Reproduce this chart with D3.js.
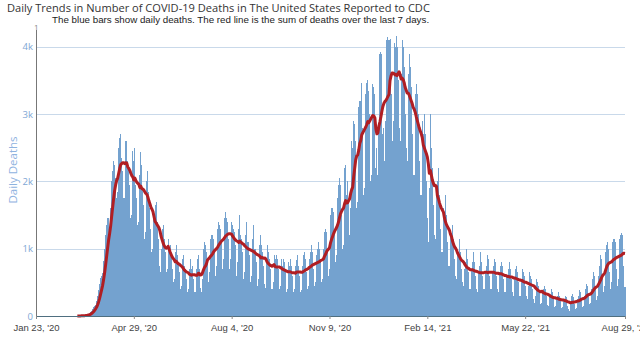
<!DOCTYPE html>
<html><head><meta charset="utf-8">
<script src="https://cdn.jsdelivr.net/npm/d3@7"></script>
<style>
html,body{margin:0;padding:0;background:#fff;}
svg{display:block;}
</style></head>
<body>
<svg id="chart" width="640" height="351"></svg>
<script>
// ---- data ----
const titleText = "Daily Trends in Number of COVID-19 Deaths in The United States Reported to CDC";
const subtitleText = "The blue bars show daily deaths. The red line is the sum of deaths over the last 7 days.";
const yAxisLabel = "Daily Deaths";
const startDate = [2020, 0, 23];   // first day of the series (Jan 23, 2020)
const endDate = [2021, 7, 29];     // last day (Aug 29, 2021)
const lineStartIndex = 41;         // red line begins here
// one row per week, Thursday..Wednesday
const dailyDeaths = [
0,0,0,0,0,0,0, 0,0,0,0,0,0,0, 0,0,0,0,0,0,0, 0,0,0,0,0,0,0, 0,0,0,0,0,0,0,
0,0,0,0,1,1,2,
2,3,3,4,5,6,8,
12,16,20,28,40,55,75,
100,130,150,170,220,290,380,
470,560,600,640,820,1000,1200,
1350,1450,1450,1300,1600,2000,2150,
2300,2250,2050,1750,1850,2500,2650,
2700,2350,2150,1750,1750,2600,2600,
2300,2200,1950,1450,1500,2450,2300,
2500,1950,1750,1350,1400,2100,2440,
2250,1900,1650,1150,1250,2000,2150,
1850,1600,1300,950,1000,1500,1650,
1700,1400,1150,750,650,1000,1300,
1350,1150,950,650,700,1150,1000,
1050,900,700,500,550,950,1050,
900,800,650,400,450,850,900,
750,700,550,350,400,700,850,
700,750,550,350,350,700,850,
900,700,420,360,550,1000,1100,
1050,950,800,500,650,1150,1200,
1200,1150,950,600,750,1300,1400,
1350,1300,1100,700,850,1450,1550,
1450,1400,1150,700,850,1400,1350,
1300,1250,1050,600,800,1300,1500,
1200,1150,950,550,650,1200,1400,
1100,1100,900,500,600,1150,1350,
1000,1000,800,450,550,1050,1200,
1050,950,750,480,420,800,1050,
950,850,700,400,500,900,850,
900,850,700,400,450,850,750,
850,800,650,350,400,800,750,
850,750,600,350,400,750,830,
900,750,600,350,380,750,900,
950,850,650,400,450,850,950,
1050,950,700,450,500,900,1000,
1100,1000,800,500,550,1000,1250,
1300,1250,1000,600,700,1500,1600,
1600,1550,1250,800,900,1750,1950,
2050,1950,1500,1000,1050,2200,2250,
1800,2000,1700,1200,1600,2600,2500,
2900,2850,2600,1600,1700,3100,3200,
3200,3460,2800,1800,1900,3300,3460,
3500,3350,3000,2000,2100,3450,3400,
3300,2200,2500,2100,2800,3900,3930,
3900,2700,2800,2300,2900,4100,4150,
4100,4120,3300,2600,2900,4050,4000,
4160,4000,3500,2800,2600,3600,4100,
4000,3700,3000,2500,2300,3600,3900,
3700,3400,2700,2100,2100,3300,3450,
3300,3000,2300,1800,1800,2900,2700,
3000,2700,2000,1450,1100,1900,3000,
2500,2200,1650,1200,1150,1800,2000,
2200,1800,1300,950,950,1600,1400,
1800,1500,1100,750,750,1200,1150,
1350,1150,850,600,550,900,950,
1150,950,700,500,450,700,800,
1000,850,650,400,400,700,800,
950,800,600,400,350,650,750,
950,800,600,400,400,650,750,
900,850,600,400,400,650,750,
850,800,600,400,350,650,750,
800,750,550,350,350,600,700,
800,700,550,350,300,550,700,
750,650,500,300,300,500,700,
650,600,450,300,250,450,650,
600,550,400,250,200,300,550,
500,450,350,180,200,350,400,
450,400,300,170,150,300,300,
400,350,250,140,150,250,300,
350,300,220,120,130,250,260,
300,280,150,100,80,200,300,
320,280,180,110,120,250,300,
380,350,250,140,150,300,400,
480,450,300,180,200,400,550,
650,600,400,240,300,600,750,
900,850,600,350,450,950,1050,
1100,1000,650,400,500,1100,1150,
1150,1100,700,450,550,1150,1200,
1230,1200,750,430
];
const yTickValues = [0, 1000, 2000, 3000, 4000];
const yTickLabels = ["0", "1k", "2k", "3k", "4k"];
const xTickDates = [[2020,0,23],[2020,3,29],[2020,7,4],[2020,10,9],[2021,1,14],[2021,4,22],[2021,7,29]];
const xTickLabels = ["Jan 23, '20","Apr 29, '20","Aug 4, '20","Nov 9, '20","Feb 14, '21","May 22, '21","Aug 29, '21"];

// ---- chart ----
const svg = d3.select("#chart");
const m = {left: 36, right: 625, top: 30, bottom: 316};
const day = i => new Date(startDate[0], startDate[1], startDate[2] + i, 12);
const records = dailyDeaths.map((v, i) => ({date: day(i), value: v, i}));

const x = d3.scaleTime()
  .domain([new Date(startDate[0], startDate[1], startDate[2], 12), new Date(endDate[0], endDate[1], endDate[2], 12)])
  .range([m.left, m.right]);
const y = d3.scaleLinear().domain([0, 4250]).range([m.bottom, m.top]);
const dayW = x(day(1)) - x(day(0));

// gridlines
svg.append("g").selectAll("line").data(yTickValues.slice(1)).join("line")
  .attr("x1", m.left).attr("x2", m.right)
  .attr("y1", d => Math.round(y(d)) + 0.5).attr("y2", d => Math.round(y(d)) + 0.5)
  .attr("stroke", "#c9d9ea").attr("stroke-width", 1);

// bars
svg.append("g").attr("shape-rendering", "crispEdges")
  .selectAll("rect").data(records.filter(d => d.value > 0)).join("rect")
  .attr("x", d => x(d.date) - dayW / 2)
  .attr("width", dayW)
  .attr("y", d => y(d.value))
  .attr("height", d => y(0) - y(d.value))
  .attr("fill", "#74a2cf");

// 7-day trailing average line
const avg = records.map((d, i) => ({date: d.date, i,
  value: d3.mean(dailyDeaths.slice(Math.max(0, i - 6), i + 1))}))
  .filter(d => d.i >= lineStartIndex);
svg.append("path").datum(avg)
  .attr("fill", "none").attr("stroke", "#b01e23").attr("stroke-width", 3)
  .attr("stroke-linejoin", "round")
  .attr("d", d3.line().x(d => x(d.date)).y(d => y(d.value)));

// y axis
const yAxis = svg.append("g").attr("transform", `translate(${m.left},0)`)
  .call(d3.axisLeft(y).tickValues(yTickValues).tickFormat((d, i) => yTickLabels[i]).tickSize(0));
yAxis.select(".domain").remove();
yAxis.selectAll("text").attr("fill", "#7ea6d4").attr("font-family", "'Open Sans', sans-serif")
  .attr("font-size", 9.5).attr("x", -3);
svg.append("line").attr("x1", m.left + 0.5).attr("x2", m.left + 0.5)
  .attr("y1", m.top).attr("y2", m.bottom).attr("stroke", "#777").attr("stroke-width", 1);

// x axis
const xAxis = svg.append("g").attr("transform", `translate(0,${m.bottom})`)
  .call(d3.axisBottom(x).tickValues(xTickDates.map(t => new Date(t[0], t[1], t[2], 12)))
    .tickFormat((d, i) => xTickLabels[i]).tickSize(3).tickSizeOuter(0));
xAxis.select(".domain").attr("stroke", "#4f6f80").attr("stroke-width", 1.2);
xAxis.selectAll(".tick line").attr("stroke", "#888");
xAxis.selectAll("text").attr("fill", "#444").attr("font-family", "'Liberation Sans Narrow','Liberation Sans',Arial,sans-serif")
  .attr("font-size", 9.5).attr("dy", "0.9em");

// axis title
svg.append("text").attr("transform", "translate(17,170) rotate(-90)")
  .attr("text-anchor", "middle").attr("fill", "#8fb3df")
  .attr("font-family", "'Open Sans', sans-serif").attr("font-size", 11.5).text(yAxisLabel);

// titles
function fit(sel, target) {
  const w = sel.node().getComputedTextLength();
  const fs = +sel.attr("font-size");
  sel.attr("font-size", fs * target / w);
}
const t1 = svg.append("text").attr("x", 7).attr("y", 12).attr("fill", "#333")
  .attr("font-family", "'Open Sans', sans-serif").attr("font-size", 12).text(titleText);
fit(t1, 423);
const t2 = svg.append("text").attr("x", 52).attr("y", 23).attr("fill", "#222")
  .attr("font-family", "'Liberation Sans Narrow','Liberation Sans',Arial,sans-serif").attr("font-size", 11).text(subtitleText);
fit(t2, 378);
svg.append("text").attr("x", 34).attr("y", 30).attr("fill", "#888")
  .attr("font-family", "'Open Sans', sans-serif").attr("font-size", 8).text("1");
</script>
</body></html>
